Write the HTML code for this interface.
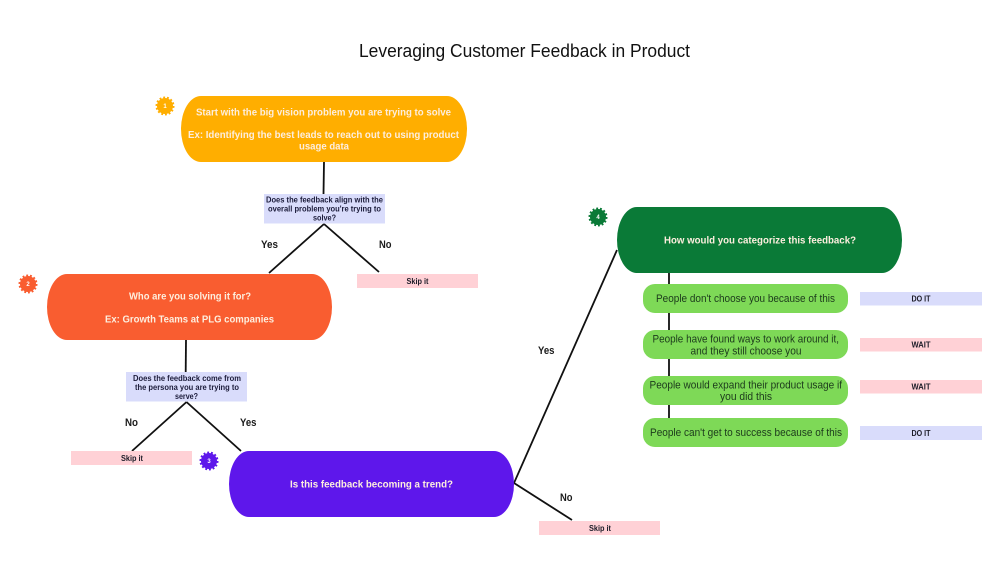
<!DOCTYPE html>
<html>
<head>
<meta charset="utf-8">
<style>
html,body{margin:0;padding:0;background:#fff;width:1000px;height:563px;overflow:hidden}
svg{display:block}
text{font-family:"Liberation Sans",sans-serif}
.w{font-size:10.5px;font-weight:bold;fill:#fdeede}
.l{font-size:11px;fill:#1c3a1c}
.q{font-size:8px;font-weight:bold;fill:#1b1b3a}
.t{font-size:8px;font-weight:bold;fill:#1c1c28}
.a{font-size:11px;font-weight:bold;fill:#1a1a1a}
.n{font-size:6px;font-weight:bold;fill:#fff;text-anchor:middle}
</style>
</head>
<body>
<svg width="1000" height="563" viewBox="0 0 1000 563" xmlns="http://www.w3.org/2000/svg">
<rect width="1000" height="563" fill="#fff"/>
<text x="359" y="57" font-size="18.500" fill="#111" textLength="331" lengthAdjust="spacingAndGlyphs">Leveraging Customer Feedback in Product</text>

<g stroke="#111" stroke-width="1.800" fill="none">
<path d="M324 162L323.500 194"/>
<path d="M324 224L269 273M324 224L379 272"/>
<path d="M186 340L185.700 372"/>
<path d="M186.500 402L132 451M186.500 402L241 451"/>
<path d="M617 250L514 483L572 520"/>
<path d="M669 273V420"/>
</g>

<rect x="181" y="96" width="286" height="66" rx="20" ry="33" fill="#ffae00"/>
<rect x="47" y="274" width="285" height="66" rx="20" ry="33" fill="#f95d30"/>
<rect x="229" y="451" width="285" height="66" rx="20" ry="33" fill="#5e17eb"/>
<rect x="617" y="207" width="285" height="66" rx="20" ry="33" fill="#0a7a37"/>

<g fill="#7ed957">
<rect x="643" y="284" width="205" height="29" rx="12"/>
<rect x="643" y="330" width="205" height="29" rx="12"/>
<rect x="643" y="376" width="205" height="29" rx="12"/>
<rect x="643" y="418" width="205" height="29" rx="12"/>
</g>

<g fill="#d9dcfb">
<rect x="264" y="194" width="121" height="29.500"/>
<rect x="126" y="372" width="121" height="29.500"/>
<rect x="860" y="292" width="122" height="13.500"/>
<rect x="860" y="426" width="122" height="14"/>
</g>
<g fill="#ffd1d6">
<rect x="357" y="274" width="121" height="14"/>
<rect x="71" y="451" width="121" height="14"/>
<rect x="539" y="521" width="121" height="14"/>
<rect x="860" y="338" width="122" height="13.500"/>
<rect x="860" y="380" width="122" height="13.500"/>
</g>

<g fill="none" stroke-width="2" stroke-dasharray="1.900 1.900">
<circle cx="165" cy="106" r="8.500" stroke="#ffae00"/>
<circle cx="28" cy="284" r="8.500" stroke="#f95d30"/>
<circle cx="209" cy="461" r="8.500" stroke="#5e17eb"/>
<circle cx="598" cy="217" r="8.500" stroke="#0a7a37"/>
</g>
<circle cx="165" cy="106" r="8" fill="#ffae00"/>
<circle cx="28" cy="284" r="8" fill="#f95d30"/>
<circle cx="209" cy="461" r="8" fill="#5e17eb"/>
<circle cx="598" cy="217" r="8" fill="#0a7a37"/>
<text class="n" x="165" y="108">1</text>
<text class="n" x="28" y="286">2</text>
<text class="n" x="209" y="463">3</text>
<text class="n" x="598" y="219">4</text>

<text class="w" x="196" y="115.500" textLength="255" lengthAdjust="spacingAndGlyphs">Start with the big vision problem you are trying to solve</text>
<text class="w" x="188" y="138" textLength="271" lengthAdjust="spacingAndGlyphs">Ex: Identifying the best leads to reach out to using product</text>
<text class="w" x="299" y="149.500" textLength="50" lengthAdjust="spacingAndGlyphs">usage data</text>

<text class="w" x="129" y="299.500" textLength="122" lengthAdjust="spacingAndGlyphs">Who are you solving it for?</text>
<text class="w" x="105" y="322.500" textLength="169" lengthAdjust="spacingAndGlyphs">Ex: Growth Teams at PLG companies</text>

<text class="w" x="290" y="487.500" textLength="163" lengthAdjust="spacingAndGlyphs">Is this feedback becoming a trend?</text>
<text class="w" x="664" y="243.500" textLength="192" lengthAdjust="spacingAndGlyphs">How would you categorize this feedback?</text>

<text class="l" x="656" y="302" textLength="179" lengthAdjust="spacingAndGlyphs">People don't choose you because of this</text>
<text class="l" x="652.500" y="342.500" textLength="186.500" lengthAdjust="spacingAndGlyphs">People have found ways to work around it,</text>
<text class="l" x="690.500" y="354.500" textLength="111" lengthAdjust="spacingAndGlyphs">and they still choose you</text>
<text class="l" x="649.500" y="388.500" textLength="192.500" lengthAdjust="spacingAndGlyphs">People would expand their product usage if</text>
<text class="l" x="720" y="400" textLength="52" lengthAdjust="spacingAndGlyphs">you did this</text>
<text class="l" x="650" y="436" textLength="192" lengthAdjust="spacingAndGlyphs">People can't get to success because of this</text>

<text class="q" x="266" y="202.500" textLength="117" lengthAdjust="spacingAndGlyphs">Does the feedback align with the</text>
<text class="q" x="268" y="211.500" textLength="113" lengthAdjust="spacingAndGlyphs">overall problem you're trying to</text>
<text class="q" x="313" y="220.500" textLength="23" lengthAdjust="spacingAndGlyphs">solve?</text>

<text class="q" x="133" y="381" textLength="108" lengthAdjust="spacingAndGlyphs">Does the feedback come from</text>
<text class="q" x="135" y="390" textLength="104" lengthAdjust="spacingAndGlyphs">the persona you are trying to</text>
<text class="q" x="175" y="399" textLength="23" lengthAdjust="spacingAndGlyphs">serve?</text>

<text class="t" x="406.500" y="284" textLength="22" lengthAdjust="spacingAndGlyphs">Skip it</text>
<text class="t" x="121" y="461" textLength="22" lengthAdjust="spacingAndGlyphs">Skip it</text>
<text class="t" x="589" y="531" textLength="22" lengthAdjust="spacingAndGlyphs">Skip it</text>
<text class="t" x="911.500" y="301.500" textLength="19" lengthAdjust="spacingAndGlyphs">DO IT</text>
<text class="t" x="911.500" y="347.500" textLength="19" lengthAdjust="spacingAndGlyphs">WAIT</text>
<text class="t" x="911.500" y="389.500" textLength="19" lengthAdjust="spacingAndGlyphs">WAIT</text>
<text class="t" x="911.500" y="436" textLength="19" lengthAdjust="spacingAndGlyphs">DO IT</text>

<text class="a" x="261" y="248" textLength="17" lengthAdjust="spacingAndGlyphs">Yes</text>
<text class="a" x="379" y="248" textLength="12.500" lengthAdjust="spacingAndGlyphs">No</text>
<text class="a" x="125" y="426" textLength="13" lengthAdjust="spacingAndGlyphs">No</text>
<text class="a" x="240" y="426" textLength="16.500" lengthAdjust="spacingAndGlyphs">Yes</text>
<text class="a" x="538" y="354" textLength="16.500" lengthAdjust="spacingAndGlyphs">Yes</text>
<text class="a" x="560" y="501" textLength="12.500" lengthAdjust="spacingAndGlyphs">No</text>
</svg>
</body>
</html>
